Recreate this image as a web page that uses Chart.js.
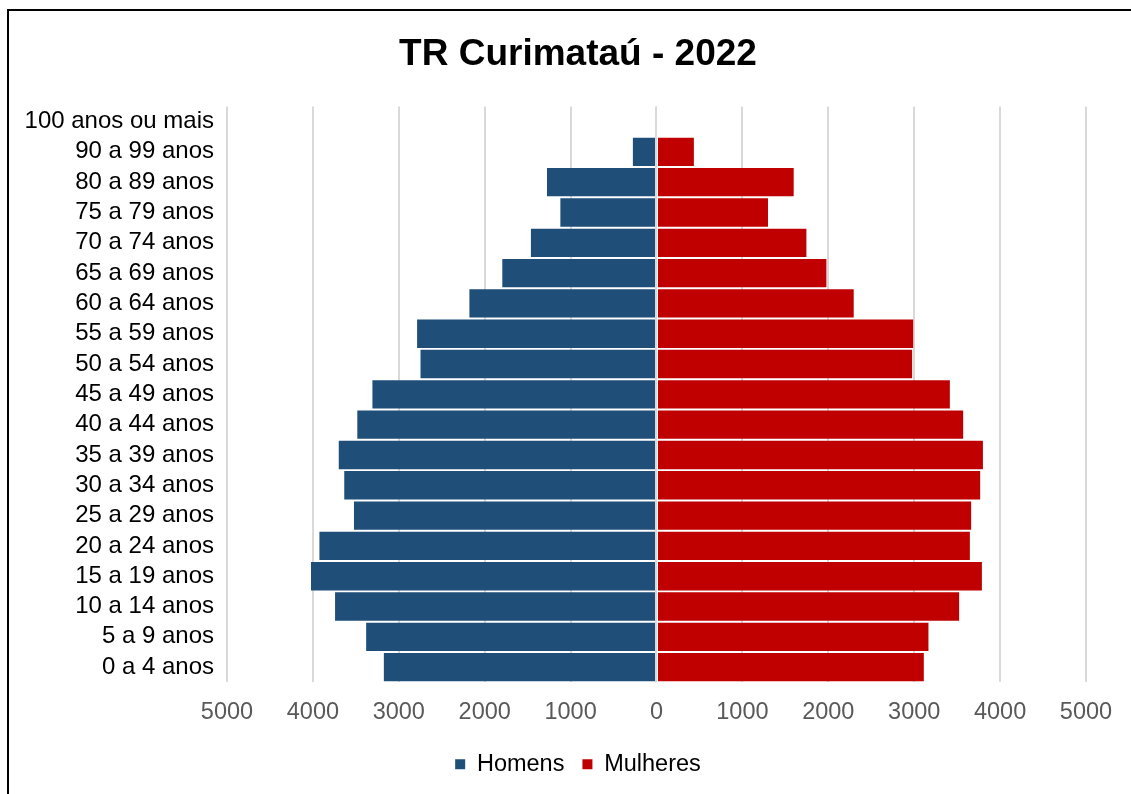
<!DOCTYPE html>
<html lang="pt-BR">
<head>
<meta charset="utf-8">
<title>TR Curimataú - 2022</title>
<script src="https://cdn.jsdelivr.net/npm/chart.js@4.4.1/dist/chart.umd.min.js"></script>
<style>
    html, body { margin: 0; padding: 0; background: #fff; }
    #quadro { position: relative; width: 1131px; height: 794px; overflow: hidden; }
    #moldura {
        position: absolute; left: 7px; top: 9px; right: -10px; bottom: -10px;
        border-top: 2px solid #000; border-left: 2px solid #000;
        pointer-events: none;
    }
    #grafico-piramide { position: absolute; left: 0; top: 0; }
</style>
</head>
<body>
<div id="quadro">
    <canvas id="grafico-piramide" width="1131" height="794"></canvas>
    <div id="moldura"></div>
</div>
<script>
// Faixas etárias, do topo para a base da pirâmide
const faixas = [
    '100 anos ou mais', '90 a 99 anos', '80 a 89 anos', '75 a 79 anos',
    '70 a 74 anos', '65 a 69 anos', '60 a 64 anos', '55 a 59 anos',
    '50 a 54 anos', '45 a 49 anos', '40 a 44 anos', '35 a 39 anos',
    '30 a 34 anos', '25 a 29 anos', '20 a 24 anos', '15 a 19 anos',
    '10 a 14 anos', '5 a 9 anos', '0 a 4 anos'
];

// População por sexo (mesma ordem das faixas)
const homens = [
    0, 275, 1275, 1119, 1462, 1795, 2178, 2787, 2747, 3307,
    3483, 3699, 3635, 3522, 3924, 4022, 3742, 3380, 3174
];
const mulheres = [
    0, 435, 1597, 1298, 1745, 1978, 2296, 2988, 2976, 3415,
    3570, 3800, 3768, 3663, 3648, 3788, 3523, 3166, 3112
];

// Marcas do eixo horizontal
const marcasEixo = [-5000, -4000, -3000, -2000, -1000, 0, 1000, 2000, 3000, 4000, 5000];

const fonte = "'Liberation Sans', Arial, sans-serif";

// Linha do zero por cima das barras
const linhaZero = {
    id: 'linhaZero',
    afterDatasetsDraw(chart) {
        const { ctx, chartArea, scales } = chart;
        const x0 = scales.x.getPixelForValue(0);
        ctx.save();
        ctx.fillStyle = '#ffffff';
        ctx.fillRect(x0 - 1.5, chartArea.top, 3, chartArea.bottom - chartArea.top);
        ctx.fillStyle = '#d9d9d9';
        ctx.fillRect(x0 - 1.5, chartArea.top, 2, chartArea.bottom - chartArea.top);
        ctx.restore();
    }
};

// Título e legenda centralizados na área do quadro, não só no espaço do gráfico
const centralizar = {
    id: 'centralizar',
    afterLayout(chart) {
        const desloc = 31;
        [chart.titleBlock, chart.legend].forEach(bloco => {
            if (!bloco) return;
            bloco.left += desloc;
            bloco.right += desloc;
        });
    }
};

document.addEventListener('DOMContentLoaded', () => {
    const ctx = document.getElementById('grafico-piramide').getContext('2d');

    new Chart(ctx, {
        type: 'bar',
        data: {
            labels: faixas,
            datasets: [
                {
                    label: 'Homens',
                    data: homens.map(v => -v),
                    backgroundColor: '#1f4e79',
                    borderWidth: 0,
                },
                {
                    label: 'Mulheres',
                    data: mulheres,
                    backgroundColor: '#c00000',
                    borderWidth: 0,
                },
            ],
        },
        options: {
            indexAxis: 'y',
            responsive: false,
            animation: false,
            layout: { padding: { left: 8, right: 45, top: 0, bottom: 8 } },
            datasets: {
                bar: { barPercentage: 0.935, categoryPercentage: 1 }
            },
            scales: {
                x: {
                    stacked: true,
                    min: -5000,
                    max: 5000,
                    afterBuildTicks: scale => {
                        scale.ticks = marcasEixo.map(v => ({ value: v }));
                    },
                    afterFit: scale => { scale.height -= 8; },
                    ticks: {
                        callback: v => Math.abs(v),
                        color: '#595959',
                        font: { family: fonte, size: 23.5 },
                        padding: 16,
                        maxRotation: 0,
                    },
                    grid: { color: '#d9d9d9', lineWidth: 2, drawTicks: false },
                    border: { display: false },
                },
                y: {
                    stacked: true,
                    afterFit: scale => { scale.width = 219; },
                    ticks: {
                        color: '#000000',
                        font: { family: fonte, size: 24 },
                        padding: 13,
                        autoSkip: false,
                    },
                    grid: { display: false, drawTicks: false },
                    border: { display: false },
                },
            },
            plugins: {
                title: {
                    display: true,
                    text: 'TR Curimataú - 2022',
                    color: '#000000',
                    font: { family: fonte, size: 37, weight: 'bold' },
                    padding: { top: 33, bottom: 29 },
                },
                legend: {
                    position: 'bottom',
                    labels: {
                        color: '#000000',
                        font: { family: fonte, size: 23.5 },
                        boxWidth: 10,
                        boxHeight: 10,
                        padding: 18,
                    },
                },
                tooltip: {
                    callbacks: {
                        label: context => `${context.dataset.label}: ${Math.abs(context.raw)}`,
                    },
                },
            },
        },
        plugins: [linhaZero, centralizar],
    });
});
</script>
</body>
</html>
